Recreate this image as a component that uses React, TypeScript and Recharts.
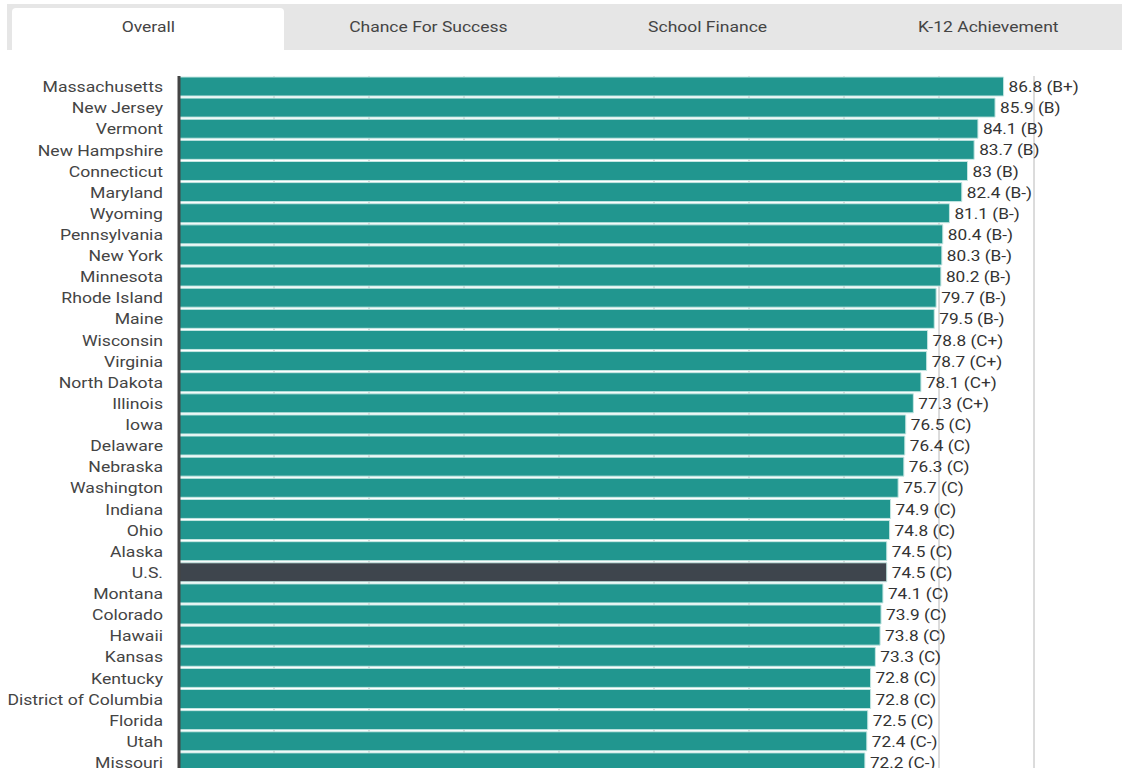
import React from "react";
import { BarChart, Bar, XAxis, YAxis, CartesianGrid, Cell, LabelList } from "recharts";

const states = [
  "Massachusetts", "New Jersey", "Vermont", "New Hampshire", "Connecticut", "Maryland",
  "Wyoming", "Pennsylvania", "New York", "Minnesota", "Rhode Island", "Maine",
  "Wisconsin", "Virginia", "North Dakota", "Illinois", "Iowa", "Delaware",
  "Nebraska", "Washington", "Indiana", "Ohio", "Alaska", "U.S.",
  "Montana", "Colorado", "Hawaii", "Kansas", "Kentucky", "District of Columbia",
  "Florida", "Utah", "Missouri",
];

const scores = [
  86.8, 85.9, 84.1, 83.7, 83, 82.4,
  81.1, 80.4, 80.3, 80.2, 79.7, 79.5,
  78.8, 78.7, 78.1, 77.3, 76.5, 76.4,
  76.3, 75.7, 74.9, 74.8, 74.5, 74.5,
  74.1, 73.9, 73.8, 73.3, 72.8, 72.8,
  72.5, 72.4, 72.2,
];

const grades = [
  "B+", "B", "B", "B", "B", "B-",
  "B-", "B-", "B-", "B-", "B-", "B-",
  "C+", "C+", "C+", "C+", "C", "C",
  "C", "C", "C", "C", "C", "C",
  "C", "C", "C", "C", "C", "C",
  "C", "C-", "C-",
];

const tabs = ["Overall", "Chance For Success", "School Finance", "K-12 Achievement"];
const xTicks = [0, 10, 20, 30, 40, 50, 60, 70, 80, 90];

const data = states.map((state, i) => ({
  state,
  score: scores[i],
  label: `${scores[i]} (${grades[i]})`,
}));

const font = "Roboto, 'Noto Sans', sans-serif";

// the reference text is drawn wide, so stretch it sideways
const StateTick = (props: any) => {
  const { x, y, payload } = props;
  return (
    <g transform={`translate(${x},${y})`}>
      <text
        transform="scale(1.26,1)"
        textAnchor="end"
        dy="0.4em"
        fill="#444"
        fontSize={14}
        fontFamily={font}
      >
        {payload.value}
      </text>
    </g>
  );
};

const ValueLabel = (props: any) => {
  const { x, y, width, height, value } = props;
  return (
    <g transform={`translate(${x + width + 5},${y + height / 2})`}>
      <text
        transform="scale(1.23,1)"
        textAnchor="start"
        dy="0.4em"
        fill="#333"
        fontSize={14}
        fontFamily={font}
      >
        {value}
      </text>
    </g>
  );
};

export default function App() {
  return (
    <div
      style={{
        position: "absolute",
        left: 0,
        top: 0,
        width: 1122,
        height: 768,
        overflow: "hidden",
        background: "#fff",
        fontFamily: font,
      }}
    >
      <div
        style={{
          position: "absolute",
          left: 7,
          top: 4,
          width: 1115,
          height: 46,
          background: "#e6e6e6",
        }}
      />
      <div
        style={{
          position: "absolute",
          left: 12,
          top: 8,
          width: 272,
          height: 42,
          background: "#fff",
          borderRadius: "4px 4px 0 0",
        }}
      />
      {tabs.map((t, i) => (
        <div
          key={t}
          style={{
            position: "absolute",
            left: 8 + i * 280,
            top: 4,
            width: 280,
            height: 46,
            lineHeight: "46px",
            textAlign: "center",
            fontSize: 14,
            color: "#444",
          }}
        >
          <span style={{ display: "inline-block", transform: "scale(1.25,1)" }}>{t}</span>
        </div>
      ))}
      <div style={{ position: "absolute", left: 0, top: 0 }}>
        <BarChart
          width={1122}
          height={800}
          data={data}
          layout="vertical"
          margin={{ top: 76, right: 88, left: 0, bottom: 27 }}
          barCategoryGap={1}
        >
          <CartesianGrid horizontal={false} stroke="#b8b8b8" />
          <XAxis type="number" domain={[0, 90]} ticks={xTicks} hide />
          <YAxis
            type="category"
            dataKey="state"
            width={179}
            tickLine={false}
            tickSize={0}
            tickMargin={16}
            axisLine={{ stroke: "#444", strokeWidth: 3 }}
            tick={<StateTick />}
            interval={0}
          />
          <Bar dataKey="score" isAnimationActive={false} stroke="#c4e6e2" strokeWidth={1}>
            {data.map((d) => (
              <Cell key={d.state} fill={d.state === "U.S." ? "#3e454d" : "#21968f"} />
            ))}
            <LabelList dataKey="label" content={<ValueLabel />} />
          </Bar>
        </BarChart>
      </div>
    </div>
  );
}
